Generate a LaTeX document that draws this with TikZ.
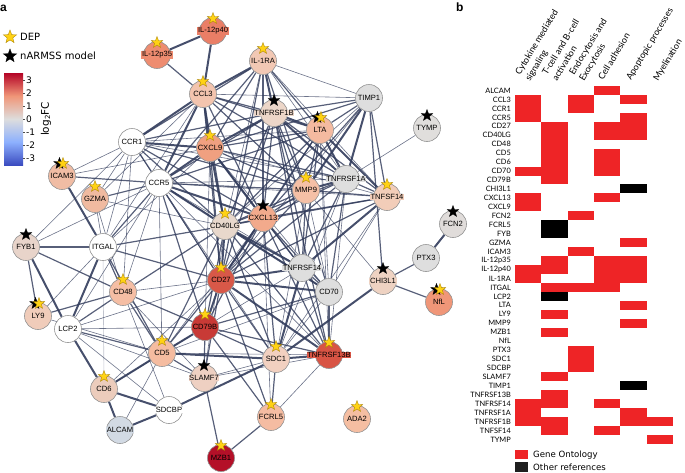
\documentclass[tikz,border=0pt]{standalone}
\usepackage{fontspec}
\setmainfont{Liberation Sans}
\newfontfamily\dejavu{DejaVu Sans}
\newfontfamily\lato{Lato}
\usetikzlibrary{shapes.geometric}
\pgfdeclarelayer{bg}
\pgfsetlayers{bg,main}
\definecolor{cIL12p40}{RGB}{234,126,102}
\definecolor{cIL12p35}{RGB}{238,140,112}
\definecolor{cIL1RA}{RGB}{242,200,180}
\definecolor{cCCL3}{RGB}{243,196,174}
\definecolor{cgrey}{RGB}{222,222,222}
\definecolor{cTNFRSF1B}{RGB}{236,214,200}
\definecolor{cLTA}{RGB}{244,186,160}
\definecolor{cTYMP}{RGB}{224,222,220}
\definecolor{cCXCL9}{RGB}{240,160,128}
\definecolor{cICAM3}{RGB}{240,188,164}
\definecolor{cMMP9}{RGB}{245,192,166}
\definecolor{cTNFSF14}{RGB}{242,205,185}
\definecolor{cGZMA}{RGB}{240,186,160}
\definecolor{cCXCL13}{RGB}{242,170,140}
\definecolor{cFCN2}{RGB}{224,220,218}
\definecolor{cCD40LG}{RGB}{232,216,204}
\definecolor{cFYB1}{RGB}{232,212,202}
\definecolor{cCD27}{RGB}{216,88,72}
\definecolor{cCHI3L1}{RGB}{238,210,194}
\definecolor{cCD48}{RGB}{245,190,164}
\definecolor{cNfL}{RGB}{240,150,120}
\definecolor{cLY9}{RGB}{240,204,186}
\definecolor{cCD79B}{RGB}{200,58,54}
\definecolor{cCD5}{RGB}{245,188,160}
\definecolor{cTNFRSF13B}{RGB}{216,84,68}
\definecolor{cSDC1}{RGB}{242,208,192}
\definecolor{cSLAMF7}{RGB}{238,208,194}
\definecolor{cCD6}{RGB}{236,204,188}
\definecolor{cFCRL5}{RGB}{245,188,162}
\definecolor{cADA2}{RGB}{245,190,162}
\definecolor{cALCAM}{RGB}{210,218,228}
\definecolor{cMZB1}{RGB}{180,16,40}
\definecolor{edgec}{RGB}{50,60,92}
\definecolor{starY}{RGB}{255,210,20}
\definecolor{starYd}{RGB}{170,130,0}
\definecolor{hmred}{RGB}{238,36,38}
\definecolor{cbTop}{RGB}{180,4,38}
\definecolor{cbLR}{RGB}{240,150,120}
\definecolor{cbMid}{RGB}{221,221,221}
\definecolor{cbLB}{RGB}{141,176,254}
\definecolor{cbBot}{RGB}{59,76,192}
\pgfdeclareverticalshading{cwarm}{100bp}{color(0bp)=(cbBot); color(25bp)=(cbBot); color(37.5bp)=(cbLB); color(50bp)=(cbMid); color(62.5bp)=(cbLR); color(75bp)=(cbTop); color(100bp)=(cbTop)}
\newcommand{\gnode}[4]{\node[gnode, fill=#4, label={[lbl, fill=#4]center:#3}] (#1) at (#2) {};}
\newcommand{\ystarOn}[1]{\node[ystar] (ys-#1) at ([yshift=12.5pt]#1.center) {};}
\newcommand{\bstarOn}[1]{\node[bstar] (bs-#1) at ([yshift=12.5pt]#1.center) {};}
\newcommand{\hstarOn}[1]{\node[bstar] (hb-#1) at ([xshift=-2.5pt,yshift=12.5pt]#1.center) {};\node[ystar] (hy-#1) at ([xshift=1pt,yshift=12.5pt]#1.center) {};}
\begin{document}
\begin{tikzpicture}[x=1pt,y=-1pt,
  gnode/.style={circle, draw=black!42, line width=0.6pt, minimum size=27pt, inner sep=0pt},
  lbl/.style={font=\fontsize{7.6}{8}\selectfont, inner sep=0.7pt, text=black},
  ystar/.style={star, star points=5, star point ratio=2.4, minimum size=12pt, inner sep=0pt, fill=starY, draw=starYd, line width=0.35pt},
  bstar/.style={star, star points=5, star point ratio=2.4, minimum size=12pt, inner sep=0pt, fill=black, draw=black, line width=0.35pt},
  ea/.style={draw=edgec, line width=2pt, opacity=0.9},
  eb/.style={draw=edgec, line width=1.2pt, opacity=0.82},
  ec/.style={draw=edgec, line width=0.6pt, opacity=0.72},
  rowlbl/.style={font=\lato\fontsize{7.4}{8}\selectfont, inner sep=0pt, anchor=east},
  hdr/.style={font=\lato\fontsize{9}{10}\selectfont, inner sep=0pt, rotate=59, anchor=base west},
  leg/.style={font=\dejavu\fontsize{10}{11}\selectfont, inner sep=0pt, anchor=west},
  tick/.style={font=\dejavu\fontsize{9}{10}\selectfont, inner sep=0pt, anchor=west}
]
\useasboundingbox (0,0) rectangle (685,472);
% panel labels
\node[font=\bfseries\fontsize{12}{12}\selectfont, anchor=base west, inner sep=0pt] (pa) at (0,11) {a};
\node[font=\bfseries\fontsize{12}{12}\selectfont, anchor=base west, inner sep=0pt] (pb) at (456,11) {b};
% legend
\node[ystar, minimum size=14pt] (legY) at (10,37) {};
\node[leg] (legYt) at (20,37) {DEP};
\node[bstar, minimum size=14pt] (legB) at (10,56) {};
\node[leg] (legBt) at (20,56) {nARMSS model};
% colour bar
\shade[shading=cwarm] (4,73) rectangle (23,165);
\foreach \v in {3,2,1,0,-1,-2,-3}{
  \draw[black!70, line width=0.4pt] (23,{119-13*\v}) -- (25,{119-13*\v});
  \node[tick] (tk\v) at (26,{119-13*\v}) {\v};
}
\node[font=\dejavu\fontsize{10.5}{11}\selectfont, rotate=90, inner sep=0pt] (cblab) at (46,119) {log{\fontsize{7}{7}\selectfont\raisebox{-0.35ex}{2}}FC};
% network nodes
\gnode{IL12p40}{213,31}{IL-12p40}{cIL12p40}
\gnode{IL12p35}{157,55}{IL-12p35}{cIL12p35}
\gnode{IL1RA}{263,61}{IL-1RA}{cIL1RA}
\gnode{CCL3}{203,94}{CCL3}{cCCL3}
\gnode{TIMP1}{369,98}{TIMP1}{cgrey}
\gnode{TNFRSF1B}{274,113}{TNFRSF1B}{cTNFRSF1B}
\gnode{LTA}{320,130}{LTA}{cLTA}
\gnode{TYMP}{427,128}{TYMP}{cTYMP}
\gnode{CCR1}{132,142}{CCR1}{white}
\gnode{CXCL9}{210,148}{CXCL9}{cCXCL9}
\gnode{ICAM3}{62,176}{ICAM3}{cICAM3}
\gnode{TNFRSF1A}{346,179}{TNFRSF1A}{cgrey}
\gnode{CCR5}{159,183}{CCR5}{white}
\gnode{MMP9}{306,190}{MMP9}{cMMP9}
\gnode{TNFSF14}{387,197}{TNFSF14}{cTNFSF14}
\gnode{GZMA}{95,199}{GZMA}{cGZMA}
\gnode{CXCL13}{263,218}{CXCL13}{cCXCL13}
\gnode{FCN2}{453,224}{FCN2}{cFCN2}
\gnode{CD40LG}{225,226}{CD40LG}{cCD40LG}
\gnode{FYB1}{26,247}{FYB1}{cFYB1}
\gnode{ITGAL}{103,247}{ITGAL}{white}
\gnode{PTX3}{426,258}{PTX3}{cgrey}
\gnode{TNFRSF14}{302,268}{TNFRSF14}{cgrey}
\gnode{CD27}{221,280}{CD27}{cCD27}
\gnode{CHI3L1}{383,281}{CHI3L1}{cCHI3L1}
\gnode{CD48}{123,292}{CD48}{cCD48}
\gnode{CD70}{329,292}{CD70}{cgrey}
\gnode{NfL}{439,302}{NfL}{cNfL}
\gnode{LY9}{38,316}{LY9}{cLY9}
\gnode{CD79B}{205,327}{CD79B}{cCD79B}
\gnode{LCP2}{68,329}{LCP2}{white}
\gnode{CD5}{162,353}{CD5}{cCD5}
\gnode{TNFRSF13B}{329,355}{TNFRSF13B}{cTNFRSF13B}
\gnode{SDC1}{276,359}{SDC1}{cSDC1}
\gnode{SLAMF7}{204,378}{SLAMF7}{cSLAMF7}
\gnode{CD6}{104,389}{CD6}{cCD6}
\gnode{SDCBP}{169,410}{SDCBP}{white}
\gnode{FCRL5}{271,417}{FCRL5}{cFCRL5}
\gnode{ADA2}{357,419}{ADA2}{cADA2}
\gnode{ALCAM}{120,430}{ALCAM}{cALCAM}
\gnode{MZB1}{221,458}{MZB1}{cMZB1}
% stars
\foreach \n in {IL12p40,IL12p35,CCL3,CXCL9,GZMA,CD40LG,IL1RA,MMP9,TNFSF14,CD48,CD27,CD79B,CD5,CD6,MZB1,SDC1,TNFRSF13B,FCRL5,ADA2}{\ystarOn{\n}}
\foreach \n in {TNFRSF1B,TYMP,CXCL13,FYB1,SLAMF7,CHI3L1,FCN2}{\bstarOn{\n}}
\foreach \n in {LTA,ICAM3,LY9,NfL}{\hstarOn{\n}}
% edges
\begin{pgfonlayer}{bg}
\foreach \a/\b in {IL1RA/TIMP1,CCL3/TIMP1,IL1RA/TNFRSF1A,IL1RA/CD40LG,CCL3/GZMA,CCR1/ITGAL,CCR1/GZMA,CCR1/FYB1,CCR1/LTA,CCR1/TNFRSF1A,CCR1/CD27,CCR1/ICAM3,CCR5/CD48,CCR5/LCP2,CCR5/CD5,CCR5/TNFRSF1A,CCR5/TNFSF14,CCR5/SDC1,CCR5/FYB1,CCR5/CD70,CXCL9/TNFSF14,CXCL9/CD70,CXCL9/ITGAL,TYMP/TNFRSF1A,TIMP1/CD40LG,LTA/CD70,TNFRSF1A/TNFRSF13B,MMP9/SDC1,MMP9/CHI3L1,TNFSF14/SDC1,TNFSF14/CD70,ITGAL/LY9,LY9/CD5,LCP2/CD79B,LCP2/SDCBP,LCP2/SLAMF7,LCP2/CD27,CD48/SDCBP,CD48/SLAMF7,CD5/ALCAM,CD6/CD79B,CD6/CD27,SLAMF7/SDC1,SLAMF7/TNFRSF13B,FCRL5/TNFRSF13B,CD5/TNFRSF13B,CD70/SDC1,GZMA/ITGAL,GZMA/CD40LG,GZMA/CD48,ICAM3/CXCL9,FCRL5/CXCL13,CD5/CD70,CCL3/ITGAL,CCR5/TNFRSF14,CXCL9/CD79B,IL1RA/TNFSF14,LTA/TNFRSF13B,MMP9/CD70,TNFRSF1A/SDC1,CXCL13/CD5,CD40LG/SLAMF7,CD27/CD48,CD79B/TNFRSF14,CCR5/TNFRSF13B,TIMP1/CD27,CCR1/CD48}
  {\draw[ec] (\a) -- (\b);}
\draw[ec, opacity=0.3] (ITGAL) -- (CD6);
\foreach \a/\b in {IL12p35/CCL3,IL1RA/CXCL9,IL1RA/CCR5,IL1RA/LTA,IL1RA/MMP9,IL1RA/CXCL13,IL1RA/CCR1,CCL3/TNFRSF1B,CCL3/CD40LG,CCL3/CXCL13,CCL3/LTA,CCL3/MMP9,CCL3/TNFRSF1A,CCR1/CCR5,CCR1/CD40LG,CCR1/CXCL13,CCR1/MMP9,CCR1/TNFRSF1B,CCR5/MMP9,CCR5/TNFRSF1B,CCR5/CD27,CCR5/LTA,CCR5/ITGAL,CCR5/CD79B,CXCL9/MMP9,CXCL9/LTA,CXCL9/CD27,CXCL9/TNFRSF1A,CXCL9/TIMP1,TNFRSF1B/MMP9,TNFRSF1B/CD40LG,TNFRSF1B/CXCL13,TNFRSF1B/TNFSF14,TNFRSF1B/TNFRSF14,TNFRSF1B/CD70,LTA/MMP9,LTA/CXCL13,LTA/CD40LG,LTA/TNFRSF14,TIMP1/CXCL13,TIMP1/TNFSF14,TIMP1/LTA,TIMP1/TNFRSF1B,MMP9/CXCL13,MMP9/CD40LG,MMP9/TNFSF14,MMP9/CD27,TNFRSF1A/CXCL13,TNFRSF1A/CD40LG,TNFRSF1A/TNFSF14,TNFRSF1A/CD70,TNFSF14/CXCL13,TNFSF14/CD40LG,TNFSF14/CD27,CXCL13/CD40LG,CXCL13/CD79B,CXCL13/TNFRSF14,CXCL13/SDC1,CD40LG/CD79B,CD40LG/TNFRSF13B,CD40LG/CD5,CD40LG/CD48,CD40LG/ITGAL,CD27/CD5,CD27/SDC1,CD27/SLAMF7,CD27/ITGAL,CD70/TNFRSF14,CD70/TNFRSF13B,CD70/CD79B,TNFRSF14/TNFRSF13B,TNFRSF13B/CD79B,CD79B/SLAMF7,CD79B/CD48,CD79B/SDC1,CD5/CD48,CD5/LCP2,CD5/ITGAL,CD5/SLAMF7,CD48/ITGAL,CD48/LY9,CD48/FYB1,CD48/LCP2,FYB1/ITGAL,FYB1/LY9,GZMA/CCR5,ICAM3/CCR5,PTX3/CHI3L1,CHI3L1/NfL,CHI3L1/TIMP1,MZB1/FCRL5,MZB1/SLAMF7,FCRL5/SDC1,FCRL5/CD27,FCRL5/CD79B,CCL3/CD27,CXCL9/TNFRSF14,IL1RA/CD27,TNFRSF1B/CD27,TNFRSF1B/TNFRSF13B,LTA/CD27,MMP9/TNFRSF14,TNFRSF1A/TNFRSF14,TNFRSF1A/CD27,CXCL13/CD70,CXCL13/TNFRSF13B,CD40LG/SDC1}
  {\draw[eb] (\a) -- (\b);}
\foreach \a/\b in {IL12p40/IL12p35,IL12p40/CCL3,IL1RA/TNFRSF1B,IL1RA/CCL3,CCL3/CCR1,CCL3/CCR5,CCL3/CXCL9,TNFRSF1B/LTA,TNFRSF1B/TNFRSF1A,LTA/TNFRSF1A,TIMP1/MMP9,CD40LG/CD27,CD27/CD70,CD40LG/CD70,CD27/TNFRSF14,TNFSF14/TNFRSF14,TNFSF14/LTA,SDC1/CHI3L1,SDC1/SDCBP,SDC1/CD5,FCN2/PTX3,CD6/ALCAM,CD6/SDCBP,SDCBP/ALCAM,CD6/CD5,LCP2/ITGAL,LCP2/FYB1,LCP2/CD6,ICAM3/ITGAL,CD79B/CD5,CCR5/CXCL9,CXCL9/CXCL13,CCR5/CXCL13,CD27/TNFRSF13B,TNFRSF13B/SDC1,CD27/CD79B,TNFRSF14/SDC1,MMP9/TNFRSF1A,CCR1/CXCL9,CXCL9/CD40LG,CXCL13/CD27,TIMP1/TNFRSF1A,CCR5/CD40LG,CD40LG/TNFRSF14,TNFRSF1B/CXCL9}
  {\draw[ea] (\a) -- (\b);}
\end{pgfonlayer}
% heatmap
\foreach \r/\c in {0/4,1/1,1/3,1/5,2/1,2/3,3/1,3/5,4/2,4/4,4/5,5/2,5/4,5/5,6/2,7/2,7/4,8/2,8/4,9/1,9/2,9/4,10/2,12/1,12/4,13/1,14/3,17/5,18/3,19/2,19/4,19/5,20/1,20/2,20/4,20/5,21/1,21/4,21/5,22/2,22/3,22/4,24/5,25/2,26/5,27/2,29/3,30/3,31/3,32/2,34/2,35/1,35/2,35/4,36/1,36/5,37/1,37/2,37/5,37/6,38/2,38/4,39/6}
  {\fill[hmred] ({515+(\c-1)*26.33},{86+\r*8.95}) rectangle ++(26.33,8.95);}
\foreach \r/\c in {11/5,15/2,16/2,23/2,33/5}
  {\fill[black] ({515+(\c-1)*26.33},{86+\r*8.95}) rectangle ++(26.33,8.95);}
\foreach \n [count=\i from 0] in {ALCAM,CCL3,CCR1,CCR5,CD27,CD40LG,CD48,CD5,CD6,CD70,CD79B,CHI3L1,CXCL13,CXCL9,FCN2,FCRL5,FYB,GZMA,ICAM3,IL-12p35,IL-12p40,IL-1RA,ITGAL,LCP2,LTA,LY9,MMP9,MZB1,NfL,PTX3,SDC1,SDCBP,SLAMF7,TIMP1,TNFRSF13B,TNFRSF14,TNFRSF1A,TNFRSF1B,TNFSF14,TYMP}
  {\node[rowlbl] (row\i) at (511,{90.5+\i*8.95}) {\n};}
% column headers
\node[hdr] (h1a) at (520,76) {Cytokine mediated};
\node[hdr] (h1b) at (530,82) {signaling};
\node[hdr] (h2a) at (547,76) {T-cell and B-cell};
\node[hdr] (h2b) at (557,82) {activation};
\node[hdr] (h3a) at (574,76) {Endocytosis and};
\node[hdr] (h3b) at (584,82) {Exocytosis};
\node[hdr] (h4) at (603,81) {Cell adhesion};
\node[hdr] (h5) at (631,81) {Apoptopic processes};
\node[hdr] (h6) at (658,82) {Myelination};
% heatmap legend
\node[fill=hmred, minimum width=13pt, minimum height=9.3pt, inner sep=0pt] (goBox) at (521.5,454.6) {};
\node[font=\dejavu\fontsize{8.6}{9}\selectfont, anchor=west, inner sep=0pt] (goTxt) at (533,455) {Gene Ontology};
\node[fill=black!88, minimum width=13pt, minimum height=9.3pt, inner sep=0pt] (orBox) at (521.5,467) {};
\node[font=\dejavu\fontsize{8.6}{9}\selectfont, anchor=west, inner sep=0pt] (orTxt) at (533,467) {Other references};
\end{tikzpicture}
\end{document}
